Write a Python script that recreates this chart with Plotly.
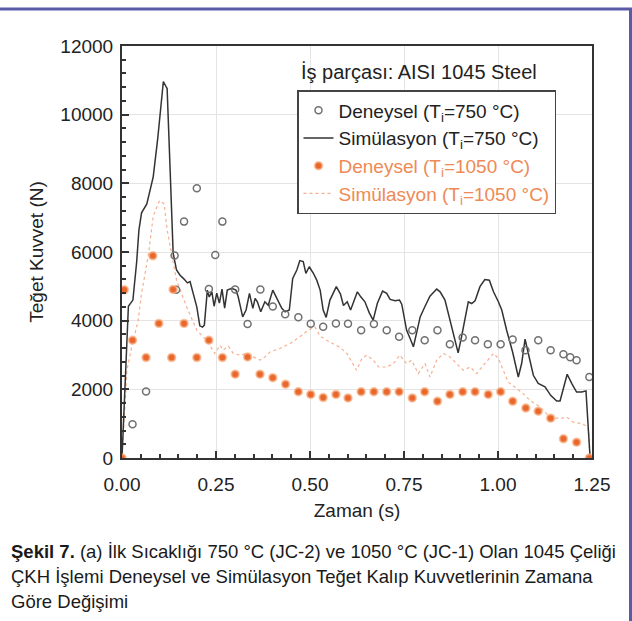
import plotly.graph_objects as go

# ---- data ----
exp750_t = [0.028, 0.064, 0.144, 0.140, 0.165, 0.199, 0.231, 0.248, 0.267, 0.301, 0.334,
            0.368, 0.401, 0.434, 0.469, 0.502, 0.535, 0.569, 0.601, 0.636, 0.670, 0.704,
            0.737, 0.772, 0.805, 0.839, 0.872, 0.906, 0.939, 0.973, 1.007, 1.039, 1.073,
            1.107, 1.140, 1.174, 1.192, 1.209, 1.243]
exp750_f = [980, 1940, 4900, 5900, 6885, 7860, 4920, 5910, 6885, 4910, 3905,
            4910, 4410, 4190, 4100, 3910, 3820, 3920, 3910, 3720, 3900, 3720,
            3530, 3720, 3430, 3720, 3315, 3510, 3430, 3315, 3315, 3450, 3140,
            3430, 3140, 3020, 2935, 2850, 2360]

sim750_t = [0.000, 0.017, 0.029, 0.039, 0.045, 0.052, 0.066, 0.083, 0.095, 0.101, 0.110,
            0.117, 0.120, 0.128, 0.136, 0.145, 0.154, 0.165, 0.174, 0.181, 0.185, 0.199,
            0.207, 0.214, 0.219, 0.227, 0.232, 0.239, 0.245, 0.252, 0.259, 0.266, 0.273,
            0.280, 0.292, 0.303, 0.309, 0.321, 0.330, 0.339, 0.348, 0.354, 0.360, 0.369,
            0.380, 0.389, 0.401, 0.411, 0.425, 0.434, 0.445, 0.454, 0.465, 0.473, 0.482,
            0.489, 0.498, 0.509, 0.518, 0.527, 0.535, 0.543, 0.553, 0.570, 0.581, 0.589,
            0.599, 0.608, 0.626, 0.635, 0.646, 0.658, 0.668, 0.679, 0.693, 0.704, 0.713,
            0.726, 0.738, 0.744, 0.757, 0.766, 0.775, 0.784, 0.793, 0.806, 0.819, 0.837,
            0.846, 0.859, 0.872, 0.886, 0.894, 0.903, 0.912, 0.921, 0.930, 0.939, 0.952,
            0.965, 0.977, 0.988, 1.001, 1.010, 1.023, 1.039, 1.054, 1.063, 1.072, 1.081,
            1.094, 1.107, 1.125, 1.140, 1.156, 1.165, 1.184, 1.196, 1.209, 1.223, 1.234,
            1.245]
sim750_f = [0, 4420, 4600, 5710, 6640, 7140, 7400, 8190, 9300, 10000, 10965,
            10820, 10760, 8395, 5970, 5475, 5330, 5210, 5100, 5140, 4980, 4395,
            3850, 3810, 3870, 4890, 4690, 4840, 4420, 4800, 4510, 4920, 4365,
            4890, 4940, 4890, 4695, 4110, 4310, 4795, 4360, 4650, 4550, 4260,
            4550, 4450, 4890, 4650, 4360, 4260, 4310, 5230, 5475, 5750, 5720,
            5380, 5570, 5380, 5180, 4890, 4310, 4095, 4600, 4990, 4775, 4440,
            4550, 4310, 4840, 4695, 4550, 4220, 4015, 4500, 4860, 4795, 4620,
            4580, 4600, 4480, 3720, 3490, 3240, 3665, 4110, 4420, 4715, 4920,
            4840, 4600, 4015, 3380, 3060, 3530, 4075, 4550, 4500, 4580, 4990,
            5200, 5180, 4840, 4550, 4310, 3720, 3080, 2360, 2760, 3460, 2990,
            2410, 2170, 2070, 1825, 1660, 1660, 2440, 2175, 1920, 1920, 1955,
            0]

exp1050_t = [0.000, 0.006, 0.028, 0.064, 0.082, 0.098, 0.132, 0.136, 0.165, 0.199, 0.231,
             0.267, 0.301, 0.334, 0.367, 0.401, 0.435, 0.469, 0.502, 0.535, 0.569, 0.601,
             0.636, 0.670, 0.704, 0.737, 0.772, 0.805, 0.839, 0.872, 0.906, 0.939, 0.974,
             1.007, 1.039, 1.074, 1.107, 1.140, 1.174, 1.209, 1.243]
exp1050_f = [0, 4900, 3430, 2925, 5890, 3920, 2925, 4910, 3920, 2925, 3430,
             2925, 2440, 2945, 2440, 2340, 2150, 1930, 1850, 1760, 1850, 1750,
             1930, 1930, 1930, 1930, 1750, 1930, 1650, 1850, 1930, 1930, 1850,
             1930, 1650, 1455, 1365, 1160, 560, 460, 0]

sim1050_t = [0.000, 0.013, 0.026, 0.043, 0.052, 0.070, 0.083, 0.100, 0.112, 0.120, 0.133,
             0.145, 0.172, 0.199, 0.225, 0.247, 0.261, 0.269, 0.283, 0.296, 0.314, 0.332,
             0.349, 0.367, 0.380, 0.394, 0.420, 0.447, 0.473, 0.495, 0.513, 0.527, 0.544,
             0.562, 0.580, 0.598, 0.615, 0.624, 0.638, 0.651, 0.668, 0.682, 0.704, 0.722,
             0.739, 0.757, 0.770, 0.788, 0.806, 0.819, 0.837, 0.855, 0.872, 0.890, 0.908,
             0.926, 0.943, 0.965, 0.988, 1.001, 1.014, 1.027, 1.045, 1.067, 1.085, 1.112,
             1.138, 1.165, 1.183, 1.200, 1.223, 1.240, 1.245]
sim1050_f = [0, 2550, 3250, 4000, 4800, 5900, 7050, 7500, 7400, 6650, 5880,
             5180, 4400, 3720, 3430, 3045, 3285, 3140, 3255, 3045, 2995, 3045,
             2945, 2850, 2945, 3090, 3190, 3335, 3530, 3720, 3820, 3550, 3430,
             3335, 3220, 3045, 2750, 2555, 2900, 2995, 2850, 2650, 2650, 2750,
             2995, 2750, 2850, 2460, 2750, 2360, 2850, 3045, 2945, 2750, 2555,
             2650, 2460, 2750, 3045, 2900, 2555, 2215, 2065, 1875, 1680, 1485,
             1190, 1145, 1190, 1045, 1000, 900, 0]

x_ticks = [0, 0.25, 0.5, 0.75, 1.0, 1.25]
y_ticks = [0, 2000, 4000, 6000, 8000, 10000, 12000]

FONT = "Arial, Liberation Sans, sans-serif"
ORANGE = "#e8672d"
ORANGE_LINE = "rgba(242,150,105,0.75)"

fig = go.Figure()

fig.add_trace(go.Scatter(
    x=sim1050_t, y=sim1050_f, mode="lines",
    line=dict(color=ORANGE_LINE, width=1.2, dash="dot"),
    name="<span style='color:#ee8a55'>Simülasyon (T<sub>i</sub>=1050 °C)</span>",
    legendrank=4))
fig.add_trace(go.Scatter(
    x=sim750_t, y=sim750_f, mode="lines",
    line=dict(color="#333333", width=1.5),
    name="Simülasyon (T<sub>i</sub>=750 °C)", legendrank=2))
fig.add_trace(go.Scatter(
    x=exp750_t, y=exp750_f, mode="markers",
    marker=dict(symbol="circle-open", size=7, color="#707070", line=dict(width=1.5, color="#707070")),
    name="Deneysel (T<sub>i</sub>=750 °C)", legendrank=1))
fig.add_trace(go.Scatter(
    x=exp1050_t, y=exp1050_f, mode="markers",
    marker=dict(symbol="circle", size=7.5, color=ORANGE, line=dict(width=2, color="rgba(248,175,130,0.7)")),
    name="<span style='color:#ee8a55'>Deneysel (T<sub>i</sub>=1050 °C)</span>",
    legendrank=3))

PX_L, PX_R, PY_T, PY_B = 122, 592, 46, 458
def px(x):
    return (x - PX_L) / (PX_R - PX_L)
def py(y):
    return (PY_B - y) / (PY_B - PY_T)

shapes = [
    dict(type="line", xref="paper", yref="paper", x0=px(0), x1=px(632), y0=py(9), y1=py(9),
         line=dict(color="#5a5aa6", width=3)),
    dict(type="line", xref="paper", yref="paper", x0=px(630.5), x1=px(630.5), y0=py(9), y1=py(622),
         line=dict(color="#5a5aa6", width=3)),
]

caption = [
    "<b>Şekil 7.</b> (a) İlk Sıcaklığı 750 °C (JC-2) ve 1050 °C (JC-1) Olan 1045 Çeliği",
    "ÇKH İşlemi Deneysel ve Simülasyon Teğet Kalıp Kuvvetlerinin Zamana",
    "Göre Değişimi",
]
annotations = [
    dict(text="İş parçası: AISI 1045 Steel", xref="paper", yref="paper",
         x=px(299), y=py(72), xanchor="left", yanchor="middle", showarrow=False,
         font=dict(family=FONT, size=20, color="#222")),
]
for i, line in enumerate(caption):
    annotations.append(dict(text=line, xref="paper", yref="paper", x=px(9), y=py(551 + 25 * i),
                            xanchor="left", yanchor="middle", showarrow=False,
                            font=dict(family=FONT, size=18.5, color="#1a1a1a")))

axis_common = dict(
    showline=True, linecolor="#333", linewidth=2, mirror=True,
    ticks="inside", ticklen=7, tickwidth=1.5, tickcolor="#333",
    showgrid=True, gridcolor="#e4e4e4", gridwidth=1, zeroline=False,
    tickfont=dict(family=FONT, size=19, color="#222"),
)

fig.update_layout(
    width=632, height=621,
    margin=dict(l=PX_L, r=632 - PX_R, t=PY_T, b=621 - PY_B),
    paper_bgcolor="white", plot_bgcolor="white",
    font=dict(family=FONT, size=19, color="#222"),
    xaxis=dict(range=[0, 1.25], tickvals=x_ticks, tickformat=".2f",
               minor=dict(dtick=0.05, ticks="inside", ticklen=4, tickcolor="#333", showgrid=False),
               ticklabelstandoff=8,
               title=dict(text="Zaman (s)", font=dict(family=FONT, size=19, color="#222"), standoff=10),
               **axis_common),
    yaxis=dict(range=[0, 12000], tickvals=y_ticks, tickformat="d",
               minor=dict(dtick=400, ticks="inside", ticklen=4, tickcolor="#333", showgrid=False),
               ticklabelstandoff=3,
               title=dict(text="Teğet Kuvvet (N)", font=dict(family=FONT, size=19, color="#222"), standoff=12),
               **axis_common),
    legend=dict(x=px(297), y=py(90), xanchor="left", yanchor="top",
                bgcolor="white", bordercolor="#444", borderwidth=1.5,
                font=dict(family=FONT, size=19, color="#222"),
                tracegroupgap=0, itemwidth=30),
    showlegend=True,
    shapes=shapes,
    annotations=annotations,
)

fig.write_html("out.html")
